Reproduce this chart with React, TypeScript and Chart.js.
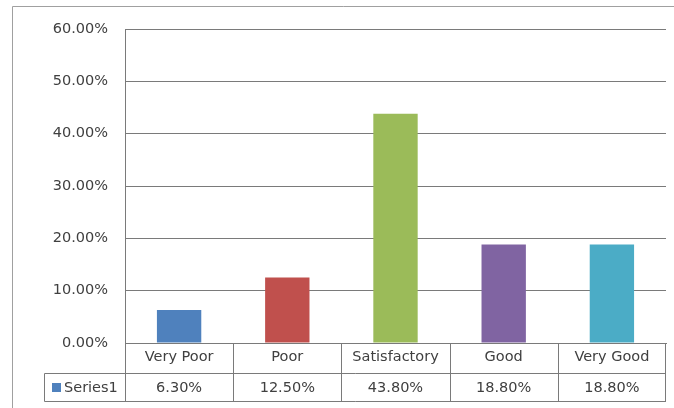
import React, { useEffect, useRef } from "react";
import { Chart, registerables } from "chart.js";

Chart.register(...registerables);

const categories = ["Very Poor", "Poor", "Satisfactory", "Good", "Very Good"];
const seriesName = "Series1";
const values = [6.3, 12.5, 43.8, 18.8, 18.8];
const barColors = ["#4F81BD", "#C0504D", "#9BBB59", "#8064A2", "#4BACC6"];
const yMin = 0;
const yMax = 60;
const yStep = 10;

const FONT = "'DejaVu Sans', sans-serif";
const FONT_SIZE = 14.5;
const TEXT_COLOR = "#404040";
const LINE_COLOR = "#7a7a7a";

const fmt = (v: number) => `${v.toFixed(2)}%`;

const tablePlugin = {
  id: "dataTable",
  beforeDraw(chart: any) {
    const { ctx } = chart;
    ctx.save();
    ctx.fillStyle = "#ffffff";
    ctx.fillRect(0, 0, chart.width, chart.height);
    ctx.strokeStyle = "#a0a0a0";
    ctx.lineWidth = 1;
    ctx.beginPath();
    ctx.moveTo(12.5, chart.height + 2);
    ctx.lineTo(12.5, 6.5);
    ctx.lineTo(chart.width + 2, 6.5);
    ctx.stroke();
    ctx.restore();
  },
  afterDraw(chart: any) {
    const { ctx, chartArea, scales } = chart;
    const xs = scales.x;
    const n = categories.length;
    const colW = (chartArea.right - chartArea.left) / n;
    const y0 = Math.round(chartArea.bottom) + 0.5;
    const y1 = Math.round(xs.bottom) + 0.5;
    const y2 = y1 + 28;
    const legendLeft = 44.5;
    ctx.save();
    ctx.strokeStyle = LINE_COLOR;
    ctx.lineWidth = 1;
    ctx.beginPath();
    for (let i = 0; i <= n; i++) {
      const px = Math.round(xs.getPixelForValue(i) - colW / 2) + 0.5;
      const clamped = i === n ? Math.round(chartArea.right) - 0.5 : px;
      ctx.moveTo(clamped, y0);
      ctx.lineTo(clamped, y2);
    }
    ctx.moveTo(legendLeft, y1);
    ctx.lineTo(Math.round(chartArea.right), y1);
    ctx.moveTo(legendLeft, y2);
    ctx.lineTo(Math.round(chartArea.right), y2);
    ctx.moveTo(legendLeft, y1);
    ctx.lineTo(legendLeft, y2);
    ctx.stroke();

    const midY = (y1 + y2) / 2;
    ctx.fillStyle = barColors[0];
    ctx.fillRect(52, midY - 4.5, 9, 9);
    ctx.font = `${FONT_SIZE}px ${FONT}`;
    ctx.fillStyle = TEXT_COLOR;
    ctx.textBaseline = "middle";
    ctx.textAlign = "left";
    ctx.fillText(seriesName, 64, midY + 1);
    ctx.textAlign = "center";
    values.forEach((v, i) => {
      ctx.fillText(fmt(v), xs.getPixelForValue(i), midY + 1);
    });
    ctx.restore();
  },
};

export default function App() {
  const ref = useRef<HTMLCanvasElement | null>(null);
  useEffect(() => {
    if (!ref.current) return;
    const chart = new Chart(ref.current, {
      type: "bar",
      data: {
        labels: categories,
        datasets: [
          {
            label: seriesName,
            data: values,
            backgroundColor: barColors,
            borderWidth: 0,
            categoryPercentage: 1,
            barPercentage: 0.41,
          },
        ],
      },
      options: {
        animation: false,
        responsive: false,
        layout: { padding: { top: 29, left: 0, right: 8, bottom: 35 } },
        plugins: {
          legend: { display: false },
          tooltip: { enabled: false },
        },
        scales: {
          x: {
            offset: true,
            grid: { display: false, drawTicks: false },
            border: { display: true, color: LINE_COLOR, width: 1 },
            ticks: {
              color: TEXT_COLOR,
              font: { family: FONT, size: FONT_SIZE },
              padding: 6,
              autoSkip: false,
              maxRotation: 0,
              minRotation: 0,
            },
            afterFit: (s: any) => {
              s.height = 30;
            },
          },
          y: {
            min: yMin,
            max: yMax,
            ticks: {
              stepSize: yStep,
              color: TEXT_COLOR,
              font: { family: FONT, size: FONT_SIZE },
              padding: 17,
              callback: (v: any) => fmt(Number(v)),
            },
            grid: { color: LINE_COLOR, drawTicks: false, lineWidth: 1 },
            border: { display: true, color: LINE_COLOR, width: 1 },
            afterFit: (s: any) => {
              s.width = 125;
            },
          },
        },
      },
      plugins: [tablePlugin],
    });
    return () => chart.destroy();
  }, []);
  return (
    <div style={{ position: "fixed", left: 0, top: 0, width: 674, height: 408, background: "#fff" }}>
      <canvas ref={ref} width={674} height={408} style={{ display: "block" }} />
    </div>
  );
}
